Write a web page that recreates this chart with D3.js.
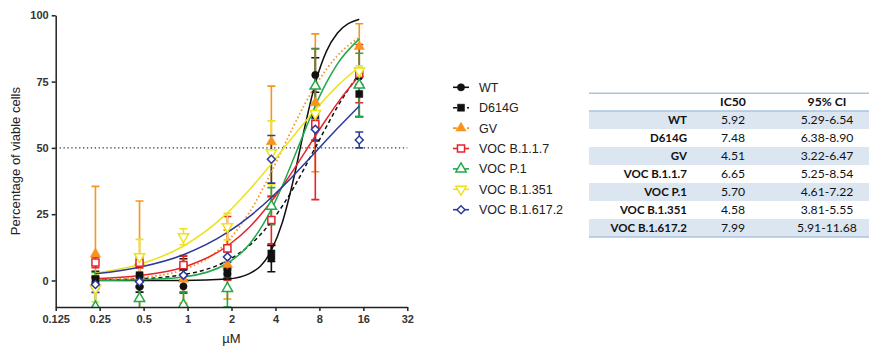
<!DOCTYPE html>
<html>
<head>
<meta charset="utf-8">
<script src="https://cdn.jsdelivr.net/npm/d3@7"></script>
<style>
  body { margin: 0; background: #fff; }
  svg { display: block; }
</style>
</head>
<body>
<svg id="chart" width="869" height="347"></svg>
<script>
// ---- data ----
const seriesNames = ['WT', 'D614G', 'GV', 'VOC B.1.1.7', 'VOC P.1', 'VOC B.1.351', 'VOC B.1.617.2'];
const doses = [0.234, 0.469, 0.9375, 1.875, 3.75, 7.5, 15];

const wtMean = [-1, -2.4, -2.2, 2.5, 8.3, 77.5, 76.9];
const wtErr = [2, 2, 2.5, 2, 5, 6.5, 3];
const d614gMean = [0.5, 2.0, 5.2, 2.9, 10.2, 62.6, 70.3];
const d614gErr = [3, 4, 3, 2, 3, 10, 8.5];
const gvMean = [10, 7, 0.5, 6, 52.3, 67, 88.2];
const gvErr = [25.5, 23, 9, 13, 21, 26, 8.6];
const b117Mean = [6.8, 6.7, 5.8, 12.1, 22.8, 59, 78];
const b117Err = [2, 2, 3.4, 12, 9, 28.5, 11];
const p1Mean = [-10, -6.8, -9.3, -3, 28, 73.3, 73.7];
const p1Err = [13, 4, 5, 7, 7, 14, 12];
const b1351Mean = [-3, 9, 16.5, 20.3, 48.2, 63, 79];
const b1351Err = [5, 6.5, 3, 5, 12, 4, 2];
const b16172Mean = [-1.5, -0.5, 2, 8.9, 45.7, 57, 53];
const b16172Err = [3, 2, 2, 2, 9, 4, 3];

// fitted curves, read at these doses
const fitDoses = [0.234, 0.469, 0.9375, 1.875, 2.652, 3.75, 4.46, 5.303, 6.307, 7.5, 8.92, 10.607, 15];
const wtFit = [0, 0, 0.03, 0.56, 2.6, 11.4, 21.9, 37.9, 57.1, 74.4, 86.3, 93.2, 98.5];
const d614gFit = [0.18, 0.64, 2.2, 7.5, 13.2, 22.2, 28.1, 34.8, 42.3, 50.1, 57.9, 65.4, 78.0];
const gvFit = [0.27, 1.07, 4.1, 14.7, 25.7, 40.9, 49.4, 58.0, 66.2, 73.4, 79.6, 84.7, 91.7];
const b117Fit = [0.66, 1.84, 5.0, 13.0, 20.1, 29.8, 35.4, 41.6, 48.0, 54.5, 60.8, 66.8, 77.2];
const p1Fit = [0.05, 0.25, 1.3, 6.5, 13.7, 26.8, 35.7, 45.7, 56.0, 65.9, 74.5, 81.6, 91.1];
const b1351Fit = [2.75, 6.1, 13.0, 25.5, 34.2, 44.0, 49.2, 54.4, 59.5, 64.4, 69.0, 73.3, 80.6];
const b16172Fit = [2.5, 5.0, 9.7, 18.1, 24.1, 31.3, 35.3, 39.5, 43.9, 48.4, 52.9, 57.3, 65.8];

const ic50 = ['5.92', '7.48', '4.51', '6.65', '5.70', '4.58', '7.99'];
const ci95 = ['5.29-6.54', '6.38-8.90', '3.22-6.47', '5.25-8.54', '4.61-7.22', '3.81-5.55', '5.91-11.68'];

const xTicks = [0.125, 0.25, 0.5, 1, 2, 4, 8, 16, 32];
const yTicks = [0, 25, 50, 75, 100];

// ---- styling per series ----
const colors = ['#111111', '#111111', '#f7941d', '#e8232a', '#21a84a', '#eee21a', '#2e3a9a'];
const dashes = [null, '4,3', '1.5,2.5', null, null, null, null];
const shapes = ['circle', 'square', 'triUp', 'square', 'triUp', 'triDown', 'diamond'];
const filled = [true, true, true, false, false, false, false];

const means = [wtMean, d614gMean, gvMean, b117Mean, p1Mean, b1351Mean, b16172Mean];
const errs = [wtErr, d614gErr, gvErr, b117Err, p1Err, b1351Err, b16172Err];
const fits = [wtFit, d614gFit, gvFit, b117Fit, p1Fit, b1351Fit, b16172Fit];

const series = seriesNames.map((name, i) => ({
  name,
  color: colors[i],
  dash: dashes[i],
  shape: shapes[i],
  filled: filled[i],
  points: doses.map((d, j) => ({ x: d, y: means[i][j], e: errs[i][j] })),
  fit: fitDoses.map((d, j) => ({ x: d, y: fits[i][j] }))
}));

const svg = d3.select('#chart');

const x = d3.scaleLog().base(2).domain([0.125, 32]).range([55.7, 407.3]);
const y = d3.scaleLinear().domain([-10, 100]).range([307, 15.3]);

const axisFont = '"Liberation Sans", Arial, sans-serif';

// clip to plot area
svg.append('clipPath').attr('id', 'plotClip')
  .append('rect')
  .attr('x', x(0.125)).attr('y', 0)
  .attr('width', x(32) - x(0.125) + 5)
  .attr('height', y(-10));

// 50% reference line
svg.append('line')
  .attr('x1', x(0.125)).attr('x2', x(32))
  .attr('y1', y(50)).attr('y2', y(50))
  .attr('stroke', '#333')
  .attr('stroke-width', 1.3)
  .attr('stroke-dasharray', '1.3,2.6');

const plot = svg.append('g').attr('clip-path', 'url(#plotClip)');

function symbolPath(shape) {
  if (shape === 'circle') return d3.symbol(d3.symbolCircle, 42)();
  if (shape === 'square') return d3.symbol(d3.symbolSquare, 50)();
  if (shape === 'diamond') return d3.symbol(d3.symbolSquare, 32)();
  return d3.symbol(d3.symbolTriangle, 46)();
}
function symbolRotate(shape) {
  if (shape === 'triDown') return 180;
  if (shape === 'diamond') return 45;
  return 0;
}

// error bars
series.forEach(s => {
  const g = plot.append('g');
  g.selectAll('line.bar')
    .data(s.points)
    .join('line')
    .attr('class', 'bar')
    .attr('x1', d => x(d.x)).attr('x2', d => x(d.x))
    .attr('y1', d => y(d.y - d.e)).attr('y2', d => y(d.y + d.e))
    .attr('stroke', s.color).attr('stroke-width', 1.6);
  [1, -1].forEach(sign => {
    g.selectAll('line.cap' + (sign > 0 ? 'T' : 'B'))
      .data(s.points)
      .join('line')
      .attr('x1', d => x(d.x) - 4).attr('x2', d => x(d.x) + 4)
      .attr('y1', d => y(d.y + sign * d.e)).attr('y2', d => y(d.y + sign * d.e))
      .attr('stroke', s.color).attr('stroke-width', 1.6);
  });
});

// fit curves
const line = d3.line()
  .x(d => x(d.x))
  .y(d => y(d.y))
  .curve(d3.curveMonotoneX);

series.forEach(s => {
  plot.append('path')
    .datum(s.fit)
    .attr('d', line)
    .attr('fill', 'none')
    .attr('stroke', s.color)
    .attr('stroke-width', s.dash === '1.5,2.5' ? 1.8 : 1.5)
    .attr('stroke-dasharray', s.dash);
});

// markers
series.forEach(s => {
  plot.append('g').selectAll('path')
    .data(s.points)
    .join('path')
    .attr('d', symbolPath(s.shape))
    .attr('transform', d => `translate(${x(d.x)},${y(d.y)}) rotate(${symbolRotate(s.shape)})`)
    .attr('fill', s.filled ? s.color : '#fff')
    .attr('stroke', s.color)
    .attr('stroke-width', s.filled ? 0.5 : 1.5);
});

// axes
const xAxis = svg.append('g')
  .attr('transform', `translate(0,${y(-10)})`)
  .call(d3.axisBottom(x).tickValues(xTicks).tickFormat(d => String(d)).tickSize(4).tickSizeOuter(0).tickPadding(4));
const yAxis = svg.append('g')
  .attr('transform', `translate(${x(0.125)},0)`)
  .call(d3.axisLeft(y).tickValues(yTicks).tickSize(4).tickSizeOuter(0).tickPadding(3));

[xAxis, yAxis].forEach(a => {
  a.select('.domain').attr('stroke', '#222').attr('stroke-width', 1.5);
  a.selectAll('.tick line').attr('stroke', '#222').attr('stroke-width', 1.5);
  a.selectAll('.tick text')
    .attr('font-family', axisFont)
    .attr('font-size', 11)
    .attr('font-weight', 'bold')
    .attr('fill', '#333');
});

svg.append('text')
  .attr('x', x(2)).attr('y', 343)
  .attr('text-anchor', 'middle')
  .attr('font-family', axisFont)
  .attr('font-size', 13)
  .attr('fill', '#222')
  .text('µM');

svg.append('text')
  .attr('transform', `translate(20,${y(45)}) rotate(-90)`)
  .attr('text-anchor', 'middle')
  .attr('font-family', axisFont)
  .attr('font-size', 13)
  .attr('fill', '#222')
  .text('Percentage of viable cells');

// legend
const legend = svg.append('g').attr('transform', 'translate(453,87.3)');
const legendRow = 20.4;
series.forEach((s, i) => {
  const g = legend.append('g').attr('transform', `translate(0,${i * legendRow})`);
  g.append('line')
    .attr('x1', 0).attr('x2', 16).attr('y1', 0).attr('y2', 0)
    .attr('stroke', s.color).attr('stroke-width', 1.6)
    .attr('stroke-dasharray', s.dash ? '4,3' : null);
  g.append('path')
    .attr('d', symbolPath(s.shape))
    .attr('transform', `translate(8,0) rotate(${symbolRotate(s.shape)})`)
    .attr('fill', s.filled ? s.color : '#fff')
    .attr('stroke', s.color)
    .attr('stroke-width', s.filled ? 0.5 : 1.5);
  g.append('text')
    .attr('x', 26).attr('y', 4.5)
    .attr('font-family', axisFont)
    .attr('font-size', 12.5)
    .attr('fill', '#222')
    .text(s.name);
});

// IC50 table
const tableFont = 'Lato, "Open Sans", sans-serif';
const tLeft = 589, tRight = 869, tTop = 93.3, headH = 17.7, rowH = 18;
const table = svg.append('g');

table.selectAll('rect.row')
  .data(seriesNames)
  .join('rect')
  .attr('x', tLeft).attr('width', tRight - tLeft)
  .attr('y', (d, i) => tTop + headH + i * rowH)
  .attr('height', rowH)
  .attr('fill', (d, i) => i % 2 === 0 ? '#dce6f1' : '#fff');

[tTop, tTop + headH, tTop + headH + seriesNames.length * rowH].forEach(yy => {
  table.append('line')
    .attr('x1', tLeft).attr('x2', tRight).attr('y1', yy).attr('y2', yy)
    .attr('stroke', '#a9c3e3').attr('stroke-width', 1.5);
});

const colX = [687, 733, 827];
[['IC50', colX[1]], ['95% CI', colX[2]]].forEach(([t, cx]) => {
  table.append('text')
    .attr('x', cx).attr('y', tTop + headH / 2 + 4)
    .attr('text-anchor', 'middle')
    .attr('font-family', tableFont).attr('font-size', 12.2)
    .attr('font-weight', 'bold').attr('fill', '#111')
    .text(t);
});

seriesNames.forEach((name, i) => {
  const cy = tTop + headH + i * rowH + rowH / 2 + 4;
  table.append('text')
    .attr('x', colX[0]).attr('y', cy)
    .attr('text-anchor', 'end')
    .attr('font-family', tableFont).attr('font-size', 11.5)
    .attr('font-weight', 'bold').attr('fill', '#111')
    .text(name);
  table.append('text')
    .attr('x', colX[1]).attr('y', cy)
    .attr('text-anchor', 'middle')
    .attr('font-family', tableFont).attr('font-size', 12.2)
    .attr('fill', '#111')
    .text(ic50[i]);
  table.append('text')
    .attr('x', colX[2]).attr('y', cy)
    .attr('text-anchor', 'middle')
    .attr('font-family', tableFont).attr('font-size', 12.2)
    .attr('fill', '#111')
    .text(ci95[i]);
});
</script>
</body>
</html>
